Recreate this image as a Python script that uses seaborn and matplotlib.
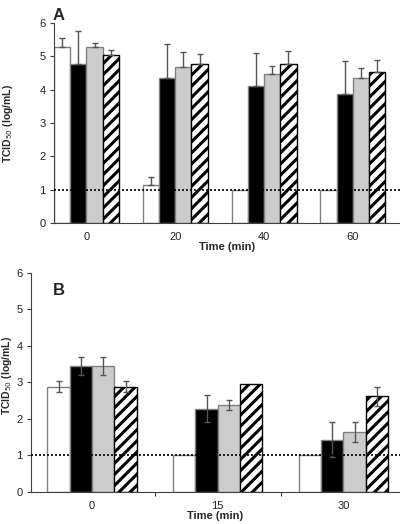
import numpy as np
import pandas as pd
import matplotlib
matplotlib.use("Agg")
import matplotlib.pyplot as plt
import seaborn as sns

# Panel A data
times_a = ["0", "20", "40", "60"]
white_a = [5.27, 1.13, 1.0, 1.0]
white_a_err = [0.29, 0.25, 0.0, 0.0]
black_a = [4.77, 4.36, 4.11, 3.86]
black_a_err = [1.0, 1.0, 1.0, 1.0]
grey_a = [5.27, 4.69, 4.46, 4.36]
grey_a_err = [0.14, 0.43, 0.25, 0.28]
hatch_a = [5.03, 4.78, 4.78, 4.52]
hatch_a_err = [0.15, 0.30, 0.39, 0.37]

# Panel B data
times_b = ["0", "15", "30"]
white_b = [2.87, 1.0, 1.0]
white_b_err = [0.15, 0.0, 0.0]
black_b = [3.45, 2.27, 1.43]
black_b_err = [0.25, 0.37, 0.48]
grey_b = [3.45, 2.37, 1.64]
grey_b_err = [0.25, 0.14, 0.27]
hatch_b = [2.87, 2.96, 2.61]
hatch_b_err = [0.15, 0.0, 0.27]

series = ["white", "black", "grey", "hatch"]
face = {"white": "white", "black": "black", "grey": "#cccccc", "hatch": "white"}
edge = {"white": "#808080", "black": "#808080", "grey": "#808080", "hatch": "black"}

sns.set_style("white")
plt.rcParams["font.family"] = ["Liberation Sans", "DejaVu Sans"]
plt.rcParams["hatch.linewidth"] = 2.2
plt.rcParams["font.size"] = 8


def make_df(times, vals):
    rows = []
    for s, v in zip(series, vals):
        for t, y in zip(times, v):
            rows.append({"time": t, "series": s, "value": y})
    return pd.DataFrame(rows)


def draw(ax, times, vals, errs, one_sided, width, xlim, letter, letter_xy):
    df = make_df(times, vals)
    sns.barplot(data=df, x="time", y="value", hue="series", hue_order=series,
                order=times, errorbar=None, width=width, gap=0, legend=False,
                ax=ax, palette=face, linewidth=1, zorder=2)
    for s, cont, err in zip(series, ax.containers, errs):
        xs, ys = [], []
        for bar in cont:
            bar.set_edgecolor(edge[s])
            bar.set_linewidth(1)
            if s == "hatch":
                bar.set_hatch("///")
            xs.append(bar.get_x() + bar.get_width() / 2)
            ys.append(bar.get_height())
        err = np.array(err)
        if one_sided:
            yerr = [np.zeros_like(err), err]
        else:
            yerr = [err, err]
        mask = err > 0
        ax.errorbar(np.array(xs)[mask], np.array(ys)[mask],
                    yerr=[yerr[0][mask], yerr[1][mask]], fmt="none",
                    ecolor="#555555", elinewidth=1, capsize=2, capthick=1, zorder=3)
    ax.axhline(1, color="black", ls=(0, (1.2, 1.2)), lw=1.2, zorder=4)
    ax.set_xlim(*xlim)
    ax.set_ylim(0, 6)
    ax.set_yticks(range(7))
    ax.set_xlabel("Time (min)", fontweight="bold", fontsize=8, labelpad=0)
    ax.set_ylabel(r"TCID$_{50}$ (log/mL)", fontweight="bold", fontsize=7.5)
    for sp in ["top", "right"]:
        ax.spines[sp].set_visible(False)
    for sp in ["left", "bottom"]:
        ax.spines[sp].set_color("#404040")
        ax.spines[sp].set_linewidth(0.8)
    ax.tick_params(axis="y", left=True, length=3, width=0.8, color="#404040",
                   labelsize=8, pad=3, labelcolor="#222222")
    ax.tick_params(axis="x", bottom=False, labelsize=8, pad=3, labelcolor="#222222")
    ax.text(letter_xy[0], letter_xy[1], letter, transform=ax.transAxes,
            fontsize=12, fontweight="bold", ha="left", va="center")


fig = plt.figure(figsize=(4, 5.24), dpi=100)
ax_a = fig.add_axes([0.135, 0.5744, 0.865, 0.3817])
ax_b = fig.add_axes([0.0775, 0.0616, 0.9225, 0.418])

draw(ax_a, times_a, [white_a, black_a, grey_a, hatch_a],
     [white_a_err, black_a_err, grey_a_err, hatch_a_err], True, 0.73,
     (-0.365, 3.53), "A", (-0.005, 1.04))
ax_a.yaxis.set_label_coords(-0.113, 0.5)

draw(ax_b, times_b, [white_b, black_b, grey_b, hatch_b],
     [white_b_err, black_b_err, grey_b_err, hatch_b_err], False, 0.71,
     (-0.486, 2.45), "B", (0.06, 0.92))
ax_b.yaxis.set_label_coords(-0.045, 0.53)
# boundary ticks between categories in panel B
ax_b.set_xticks([0.5, 1.5], minor=True)
ax_b.tick_params(axis="x", which="minor", bottom=True, length=3, width=0.8,
                 color="#404040")

fig.savefig("out.png", dpi=100)
